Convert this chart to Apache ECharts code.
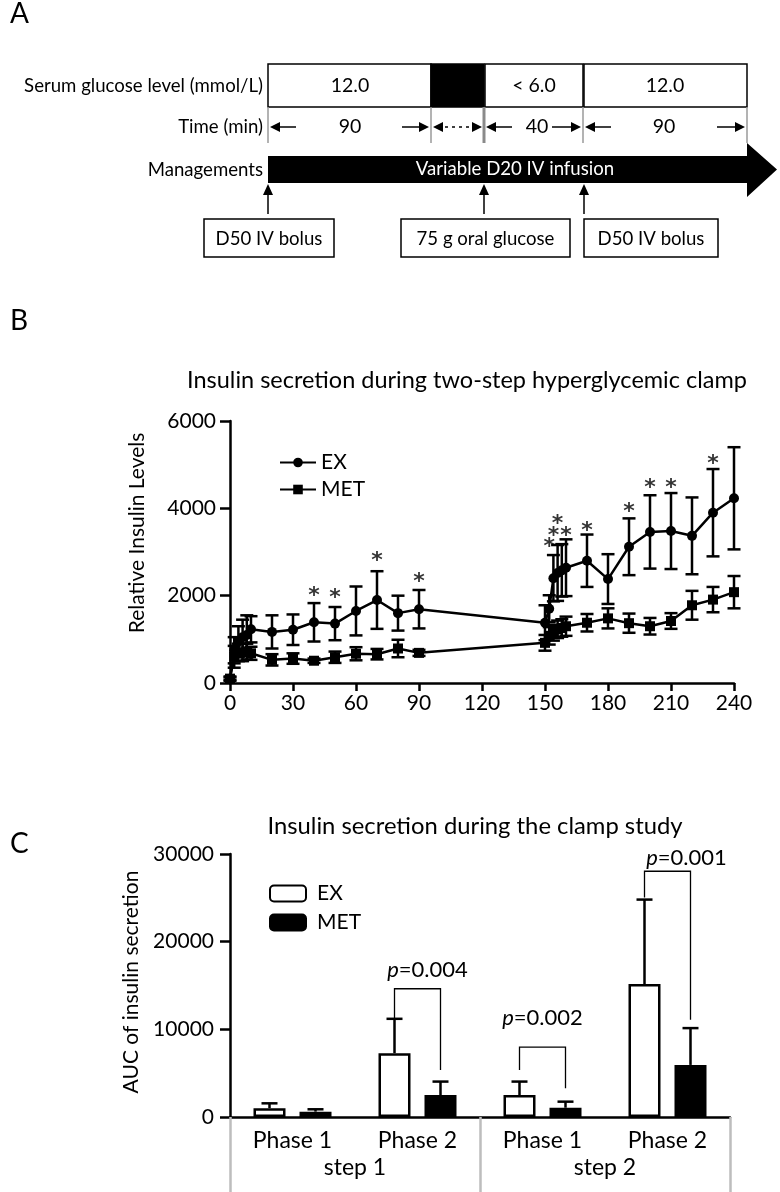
<!DOCTYPE html>
<html><head><meta charset="utf-8">
<script src="https://cdn.jsdelivr.net/npm/echarts@6/dist/echarts.min.js"></script>
<style>html,body{margin:0;padding:0;background:#fff}#c{width:780px;height:1192px}</style>
</head><body><div id="c"></div>
<script>
const FONT = 'Lato';

// ---------- Panel B data ----------
const timeMin = [0,2,4,6,8,10,20,30,40,50,60,70,80,90,150,152,154,156,158,160,170,180,190,200,210,220,230,240];
const exMean  = [100,750,950,1050,1100,1230,1170,1220,1390,1360,1650,1900,1600,1690,1380,1700,2400,2520,2580,2640,2800,2380,3120,3460,3480,3370,3900,4230];
const exSD    = [50,300,350,400,450,300,380,350,440,380,560,660,400,440,400,310,530,640,600,650,600,570,650,840,870,880,1000,1170];
const metMean = [100,600,700,700,720,680,530,560,510,590,670,660,790,690,920,1080,1150,1230,1260,1300,1380,1480,1370,1300,1420,1780,1910,2080];
const metSD   = [30,250,200,200,180,150,130,120,50,130,150,120,200,70,180,200,180,200,200,220,200,230,220,190,180,330,290,370];
const starTimes  = [40,50,70,90,152,154,156,160,170,190,200,210,230];
const starLevels = [2130,2070,2930,2450,3240,3490,3770,3500,3620,4040,4590,4590,5150];

// ---------- Panel C data ----------
const phaseLabels = ['Phase 1','Phase 2','Phase 1','Phase 2'];
const stepLabels  = ['step 1','step 2'];
const aucEX    = [1000,7280,2510,15160];
const aucEXsd  = [560,3920,1530,9640];
const aucMET   = [610,2510,1060,5940];
const aucMETsd = [270,1530,690,4200];
// bracket: [category index, left end, top, right end]
const bracketCat   = [1,2,3];
const bracketLeft  = [11200,5370,25030];
const bracketTop   = [14630,7970,28030];
const bracketRight = [5370,3280,11090];
const pValues      = ['0.004','0.002','0.001'];
const pLabelLevel  = [16800,11310,29600];

// ---------- styling constants ----------
const BAR_W = 32, BAR_GAP = 14, OFF = (BAR_W + BAR_GAP) / 2;
const pShift = [10, 0, 19];
const AF = 18.6; // panel A font size

// ---------- Panel A diagram (graphic) ----------
const G = [];
function rectEl(x,y,w,h,fill,lw){ return {type:'rect', shape:{x:x,y:y,width:w,height:h}, style:{fill:fill, stroke:'#000', lineWidth:lw||1.5}}; }
function textEl(x,y,t,size,align,color,extra){
  const a = align||'center';
  return {type:'text', x:x, y:y, style:Object.assign({text:t, fill:color||'#000', fontSize:size||20, fontFamily:FONT,
    align:a, textAlign:a, verticalAlign:'middle', textVerticalAlign:'middle'}, extra||{})};
}
function lineEl(x1,y1,x2,y2,stroke,lw,dash){ return {type:'line', shape:{x1:x1,y1:y1,x2:x2,y2:y2}, style:{stroke:stroke||'#000', lineWidth:lw||1.5, lineDash:dash||null}}; }
function polyEl(pts,fill){ return {type:'polygon', shape:{points:pts}, style:{fill:fill||'#000'}}; }
function headL(x,y){ return polyEl([[x,y],[x+10,y-5],[x+10,y+5]]); }
function headR(x,y){ return polyEl([[x,y],[x-10,y-5],[x-10,y+5]]); }
function headU(x,y){ return polyEl([[x,y],[x-5,y+11],[x+5,y+11]]); }

G.push(textEl(10,14,'A',28,'left'));
G.push(textEl(10,321,'B',28,'left'));
G.push(textEl(10,844,'C',28,'left'));

// row 1
G.push(textEl(263,86,'Serum glucose level (mmol/L)',AF,'right'));
G.push(rectEl(268,64,163,43,'#fff'));
G.push(rectEl(431,64,53,43,'#000'));
G.push(rectEl(485,64,98,43,'#fff'));
G.push(rectEl(584,64,163,43,'#fff'));
G.push(textEl(350,86,'12.0',19.5));
G.push(textEl(534,86,'< 6.0',19.5));
G.push(textEl(665,86,'12.0',19.5));
// row 2
G.push(textEl(263,127,'Time (min)',AF,'right'));
[268,431,583,747].forEach(function(x){ G.push(lineEl(x,107,x,143,'#9a9a9a',1.5)); });
G.push(lineEl(484,107,484,143,'#8a8a8a',3));
const ty = 127;
G.push(lineEl(275,ty,296,ty)); G.push(headL(270,ty));
G.push(lineEl(402,ty,424,ty)); G.push(headR(429,ty));
G.push(textEl(350,ty,'90',19.5));
G.push(lineEl(438,ty,477,ty,'#000',1.5,[3,4])); G.push(headL(433,ty)); G.push(headR(482,ty));
G.push(lineEl(491,ty,512,ty)); G.push(headL(486,ty));
G.push(lineEl(552,ty,576,ty)); G.push(headR(581,ty));
G.push(textEl(537,ty,'40',19.5));
G.push(lineEl(590,ty,611,ty)); G.push(headL(585,ty));
G.push(lineEl(717,ty,740,ty)); G.push(headR(745,ty));
G.push(textEl(664,ty,'90',19.5));
// row 3
G.push(textEl(263,170,'Managements',AF,'right'));
G.push(polyEl([[268,156],[747,156],[747,143],[777,169.5],[747,197],[747,183],[268,183]]));
G.push(textEl(515,169,'Variable D20 IV infusion',AF,'center','#fff'));
[268,484,584].forEach(function(x){ G.push(lineEl(x,193,x,214)); G.push(headU(x,184)); });
// row 4
G.push(rectEl(204,219,130,38,'#fff'));
G.push(rectEl(401,219,169,38,'#fff'));
G.push(rectEl(584,219,134,38,'#fff'));
G.push(textEl(269,239,'D50 IV bolus',AF));
G.push(textEl(485.5,239,'75 g oral glucose',AF));
G.push(textEl(651,239,'D50 IV bolus',AF));
// titles
G.push(textEl(467,380,'Insulin secretion during two-step hyperglycemic clamp',23.5));
G.push(textEl(475,826,'Insulin secretion during the clamp study',23.8));

// ---------- render helpers ----------
function errB(params, api){
  const x=api.value(0), m=api.value(1), e=api.value(2);
  const p1=api.coord([x,m+e]), p2=api.coord([x,m-e]);
  const hw=6.5, st={stroke:'#000', lineWidth:2.5};
  return {type:'group', children:[
    {type:'line', shape:{x1:p1[0],y1:p1[1],x2:p2[0],y2:p2[1]}, style:st},
    {type:'line', shape:{x1:p1[0]-hw,y1:p1[1],x2:p1[0]+hw,y2:p1[1]}, style:st},
    {type:'line', shape:{x1:p2[0]-hw,y1:p2[1],x2:p2[0]+hw,y2:p2[1]}, style:st}
  ]};
}
function errC(offset){
  return function(params, api){
    const c=api.value(0), m=api.value(1), e=api.value(2);
    const p0=api.coord([c,m]), p1=api.coord([c,m+e]);
    const x=p0[0]+offset, hw=8, st={stroke:'#000', lineWidth:2.5};
    return {type:'group', children:[
      {type:'line', shape:{x1:x,y1:p0[1],x2:x,y2:p1[1]}, style:st},
      {type:'line', shape:{x1:x-hw,y1:p1[1],x2:x+hw,y2:p1[1]}, style:st}
    ]};
  };
}
function bracketRender(params, api){
  const i=params.dataIndex;
  const c=api.value(0);
  const pt=api.coord([c,api.value(2)]);
  const pl=api.coord([c,api.value(1)])[1], pr=api.coord([c,api.value(3)])[1], py=api.coord([c,api.value(4)])[1];
  const xl=pt[0]-OFF, xr=pt[0]+OFF;
  return {type:'group', children:[
    {type:'polyline', shape:{points:[[xl,pl],[xl,pt[1]],[xr,pt[1]],[xr,pr]]}, style:{stroke:'#000', lineWidth:1.3, fill:'none'}},
    {type:'text', x:(xl+xr)/2+pShift[i], y:py, style:{text:'{i|p}='+pValues[i],
      rich:{i:{fontStyle:'italic', fontSize:22, fontFamily:FONT, fill:'#000'}},
      fontSize:22, fontFamily:FONT, fill:'#000', align:'center', verticalAlign:'middle'}}
  ]};
}

const axisLineBlk = {show:true, lineStyle:{color:'#000', width:2.5}};
const lbl = {color:'#000', fontSize:21, fontFamily:FONT};
const plain = function(v){ return String(v); };

const option = {
  animation:false,
  backgroundColor:'#fff',
  graphic:{elements:G},
  grid:[
    {left:230, right:46, top:421, height:262},
    {left:230, right:50, top:854, height:263}
  ],
  xAxis:[
    {gridIndex:0, type:'value', min:0, max:240, interval:30,
      axisLine:axisLineBlk, axisTick:{show:true, length:8, lineStyle:{color:'#000', width:2.5}},
      axisLabel:Object.assign({margin:10, formatter:plain}, lbl), splitLine:{show:false}},
    {gridIndex:1, type:'category', data:phaseLabels, position:'bottom',
      axisLine:axisLineBlk, axisTick:{show:false},
      axisLabel:Object.assign({}, lbl, {margin:12, interval:0, fontSize:23})},
    {gridIndex:1, type:'category', data:stepLabels, position:'bottom',
      axisLine:{show:false}, axisTick:{show:true, length:75, lineStyle:{color:'#bdbdbd', width:2.5}},
      axisLabel:Object.assign({}, lbl, {margin:39, interval:0, fontSize:23})}
  ],
  yAxis:[
    {gridIndex:0, type:'value', min:0, max:6000, interval:2000,
      name:'Relative Insulin Levels', nameLocation:'middle', nameGap:82,
      nameTextStyle:{color:'#000', fontSize:21, fontFamily:FONT, padding:[0,0,0,38]},
      axisLine:axisLineBlk, axisTick:{show:true, length:10, lineStyle:{color:'#000', width:2.5}},
      axisLabel:Object.assign({margin:14, formatter:plain}, lbl), splitLine:{show:false}},
    {gridIndex:1, type:'value', min:0, max:30000, interval:10000,
      name:'AUC of insulin secretion', nameLocation:'middle', nameGap:83,
      nameTextStyle:{color:'#000', fontSize:21, fontFamily:FONT, padding:[0,0,0,7]},
      axisLine:axisLineBlk, axisTick:{show:true, length:10, lineStyle:{color:'#000', width:2.5}},
      axisLabel:Object.assign({margin:16, formatter:plain}, lbl), splitLine:{show:false}}
  ],
  legend:[
    {data:['EX','MET'], left:274, top:447, orient:'vertical', itemWidth:36, itemHeight:12, itemGap:6,
      selectedMode:false, textStyle:{color:'#000', fontSize:21, fontFamily:FONT}},
    {data:['EX AUC','MET AUC'], left:264, top:878, orient:'vertical', itemWidth:36, itemHeight:16, itemGap:8,
      selectedMode:false, formatter:function(n){ return n.replace(' AUC',''); },
      textStyle:{color:'#000', fontSize:21, fontFamily:FONT, padding:[0,0,0,6]}}
  ],
  series:[
    {type:'custom', name:'EX sd', xAxisIndex:0, yAxisIndex:0, renderItem:errB, encode:{x:0,y:1},
      data:timeMin.map(function(t,i){ return [t, exMean[i], exSD[i]]; }), z:2},
    {type:'custom', name:'MET sd', xAxisIndex:0, yAxisIndex:0, renderItem:errB, encode:{x:0,y:1},
      data:timeMin.map(function(t,i){ return [t, metMean[i], metSD[i]]; }), z:2},
    {type:'line', name:'EX', xAxisIndex:0, yAxisIndex:0, symbol:'circle', symbolSize:10,
      lineStyle:{color:'#000', width:2.5}, itemStyle:{color:'#000'}, z:3,
      data:timeMin.map(function(t,i){ return [t, exMean[i]]; })},
    {type:'line', name:'MET', xAxisIndex:0, yAxisIndex:0, symbol:'rect', symbolSize:10,
      lineStyle:{color:'#000', width:2.5}, itemStyle:{color:'#000'}, z:3,
      data:timeMin.map(function(t,i){ return [t, metMean[i]]; })},
    {type:'scatter', name:'sig', xAxisIndex:0, yAxisIndex:0, symbolSize:1, itemStyle:{color:'rgba(0,0,0,0)'},
      label:{show:true, position:'inside', formatter:'*', color:'#000', fontSize:22, fontWeight:'bold', fontFamily:'DejaVu Sans', offset:[0,6]},
      data:starTimes.map(function(t,i){ return [t, starLevels[i]]; }), z:4},
    {type:'bar', name:'EX AUC', xAxisIndex:1, yAxisIndex:1, barWidth:BAR_W, barGap:(BAR_GAP/BAR_W*100)+'%',
      itemStyle:{color:'#fff', borderColor:'#000', borderWidth:2.5}, data:aucEX},
    {type:'bar', name:'MET AUC', xAxisIndex:1, yAxisIndex:1, barWidth:BAR_W, barGap:(BAR_GAP/BAR_W*100)+'%',
      itemStyle:{color:'#000', borderColor:'#000', borderWidth:2.5}, data:aucMET},
    {type:'custom', name:'EX AUC sd', xAxisIndex:1, yAxisIndex:1, renderItem:errC(-OFF), encode:{x:0,y:1},
      data:aucEX.map(function(v,i){ return [i, v, aucEXsd[i]]; }), z:3},
    {type:'custom', name:'MET AUC sd', xAxisIndex:1, yAxisIndex:1, renderItem:errC(OFF), encode:{x:0,y:1},
      data:aucMET.map(function(v,i){ return [i, v, aucMETsd[i]]; }), z:3},
    {type:'custom', name:'brackets', xAxisIndex:1, yAxisIndex:1, renderItem:bracketRender, encode:{x:0,y:2},
      data:bracketCat.map(function(c,i){ return [c, bracketLeft[i], bracketTop[i], bracketRight[i], pLabelLevel[i]]; }), z:3}
  ]
};
const chart = echarts.init(document.getElementById('c'), null, {renderer:'canvas'});
chart.setOption(option);
</script></body></html>
